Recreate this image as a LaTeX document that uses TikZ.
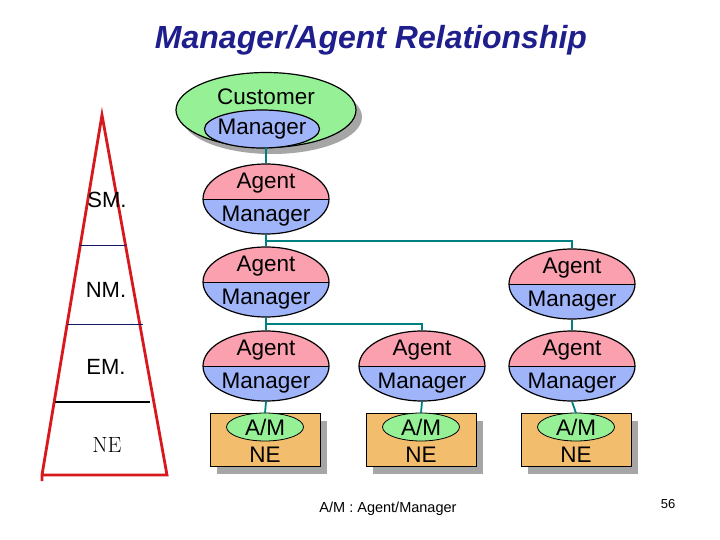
\documentclass[tikz,border=0pt]{standalone}
\usepackage{fontspec}
\setmainfont{Liberation Sans}
\newfontfamily\lm{Latin Modern Roman}
\usetikzlibrary{shapes.geometric}
\definecolor{pinkc}{RGB}{250,160,175}
\definecolor{bluec}{RGB}{160,180,250}
\definecolor{greenc}{RGB}{150,240,150}
\definecolor{boxc}{RGB}{242,190,110}
\definecolor{teal2}{RGB}{0,128,128}
\definecolor{titc}{RGB}{30,30,140}
\definecolor{redc}{RGB}{215,25,30}
\tikzset{
 am/.style={ellipse,draw,line width=1.2pt,minimum width=126pt,minimum height=70pt,
   path picture={\fill[pinkc](path picture bounding box.north west) rectangle (path picture bounding box.east);
                 \fill[bluec](path picture bounding box.west) rectangle (path picture bounding box.south east);
                 \draw[thick](path picture bounding box.west)--(path picture bounding box.east);}},
 txt/.style={font=\fontsize{22.5}{22.5}\selectfont,inner sep=0pt},
 conn/.style={teal2,line width=1.8pt},
 ne/.style={draw,thick,fill=boxc,minimum width=110pt,minimum height=53pt,inner sep=0pt},
 amsmall/.style={ellipse,draw,thick,fill=greenc,minimum width=77pt,minimum height=28pt,inner sep=0pt},
 lvl/.style={font=\fontsize{22}{22}\selectfont},
}
\newcommand{\agm}[3]{%
 \node[am] (#1) at (#2,#3) {};
 \node[txt] (#1t) at (#2,#3-16) {Agent};
 \node[txt] (#1b) at (#2,#3+17) {Manager};}
\newcommand{\nebox}[3]{%
 \fill[gray!70] (#2-55+7,#3-26.5+7) rectangle (#2+55+7,#3+26.5+7);
 \node[ne] (#1) at (#2,#3) {};
 \node[amsmall] (#1e) at (#2,#3-13) {};
 \node[txt] (#1t) at (#2,#3-13) {A/M};
 \node[txt] (#1b) at (#2,#3+15) {NE};}
\begin{document}
\begin{tikzpicture}[x=1pt,y=-1pt]
\useasboundingbox (0,0) rectangle (720,540);
% title
\node[font=\fontsize{32}{32}\selectfont\bfseries\itshape,text=titc] (title) at (371,40) {Manager/Agent Relationship};
% pyramid
\draw[redc,line width=2.8pt,line join=miter] (42,481)--(42,475)--(102,115)--(167,475)--(42,475);
\draw[titc!70!black,thick] (79,245)--(126,245);
\draw[titc!70!black,thick] (67,324)--(143,324);
\draw[black,line width=1.4pt] (55,402)--(150,402);
\node[lvl] (sm) at (107,200) {SM.};
\node[lvl] (nm) at (106,290) {NM.};
\node[lvl] (em) at (106,367) {EM.};
\node[font=\lm\fontsize{22}{22}\selectfont] (nel) at (107,445) {NE};
% customer manager
\fill[gray!70] (272,117) ellipse (90 and 37);
\node[ellipse,draw,line width=1.2pt,fill=greenc,minimum width=180pt,minimum height=75pt] (cm) at (266,110) {};
\node[ellipse,draw,line width=1.2pt,fill=bluec,minimum width=115pt,minimum height=38pt] (cmi) at (262,129) {};
\node[txt] (cmt) at (266,97) {Customer};
\node[txt] (cmb) at (262,129) {Manager};
% agent managers
\agm{a1}{266}{199}
\agm{a2}{266}{282}
\agm{b2}{572}{284}
\agm{a3}{266}{366}
\agm{c3}{422}{366}
\agm{b3}{572}{366}
\nebox{n1}{265}{440}
\nebox{n2}{421}{440}
\nebox{n3}{576}{440}
% connectors
\draw[conn] (cm.south)--(a1.north);
\draw[conn] (a1.south)--(a2.north);
\draw[conn] (a1.south)--++(0,6)-|(b2.north);
\draw[conn] (a2.south)--(a3.north);
\draw[conn] (a2.south)--++(0,6)-|(c3.north);
\draw[conn] (b2.south)--(b3.north);
\draw[conn] (a3.south)--(n1.north);
\draw[conn] (c3.south)--(n2.north);
\draw[conn] (b3.south)--(n3.north);
% footnotes
\node[font=\fontsize{14.5}{14.5}\selectfont] (fn) at (388,509) {A/M : Agent/Manager};
\node[font=\fontsize{13}{13}\selectfont] (pg) at (668,504) {56};
\end{tikzpicture}
\end{document}
